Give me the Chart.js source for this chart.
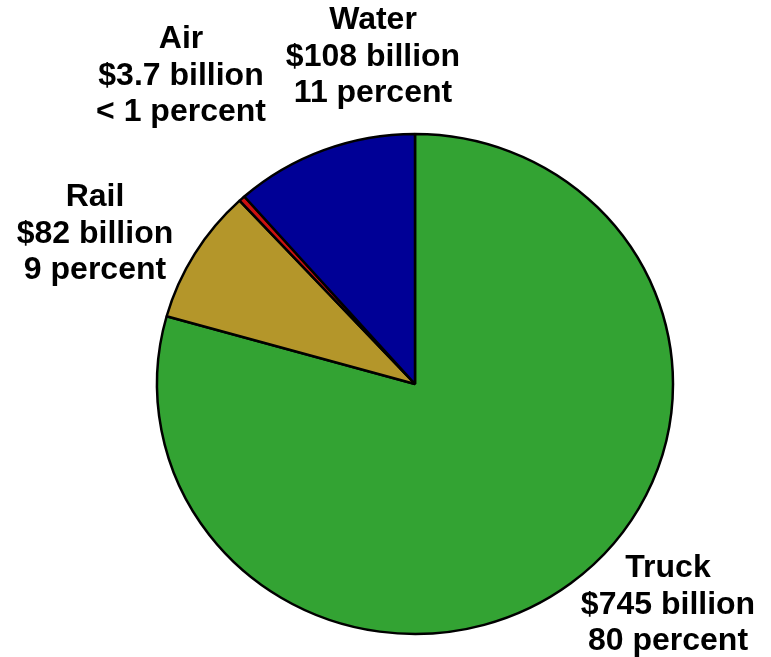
<!DOCTYPE html>
<html>
<head>
<meta charset="utf-8">
<script src="https://cdn.jsdelivr.net/npm/chart.js@4/dist/chart.umd.min.js"></script>
<style>
html,body{margin:0;padding:0;background:#fff;}
#wrap{width:771px;height:657px;position:relative;}
</style>
</head>
<body>
<div id="wrap"><canvas id="c" width="771" height="657"></canvas></div>
<script>
const categories = ["Truck", "Rail", "Air", "Water"];
const valuesBillion = [745, 82, 3.7, 108];
const percentLabels = ["80", "9", "< 1", "11"];
const sliceColors = ["#33A333", "#B4962A", "#CC1010", "#000096"];

// label anchor (center x, first baseline y) per category
const labelAnchors = [
  {x: 668, y: 577},
  {x: 95, y: 206},
  {x: 181, y: 48},
  {x: 373, y: 29}
];

// the reference pie is slightly wider than tall
const yScale = 250 / 258;

const ellipsePlugin = {
  id: 'ellipse',
  beforeDatasetsDraw(chart) {
    const ctx = chart.ctx, a = chart.chartArea;
    const cx = (a.left + a.right) / 2, cy = (a.top + a.bottom) / 2;
    ctx.save();
    ctx.translate(cx, cy);
    ctx.scale(1, yScale);
    ctx.translate(-cx, -cy);
  },
  afterDatasetsDraw(chart) {
    chart.ctx.restore();
  }
};

const labelPlugin = {
  id: 'outsideLabels',
  afterDraw(chart) {
    const ctx = chart.ctx;
    ctx.save();
    ctx.font = 'bold 32px "Liberation Sans", Arial, sans-serif';
    ctx.fillStyle = '#000';
    ctx.textAlign = 'center';
    ctx.textBaseline = 'alphabetic';
    categories.forEach((name, i) => {
      const a = labelAnchors[i];
      const lines = [name, '$' + valuesBillion[i] + ' billion', percentLabels[i] + ' percent'];
      lines.forEach((t, j) => ctx.fillText(t, a.x, a.y + j * 36.5));
    });
    ctx.restore();
  }
};

new Chart(document.getElementById('c'), {
  type: 'pie',
  data: {
    labels: categories,
    datasets: [{
      data: valuesBillion,
      backgroundColor: sliceColors,
      borderColor: '#000',
      borderWidth: 2.5,
      radius: 258
    }]
  },
  options: {
    responsive: false,
    animation: false,
    layout: {padding: {left: 157, right: 98, top: 126, bottom: 15}},
    plugins: {legend: {display: false}, tooltip: {enabled: false}}
  },
  plugins: [ellipsePlugin, labelPlugin]
});
</script>
</body>
</html>
